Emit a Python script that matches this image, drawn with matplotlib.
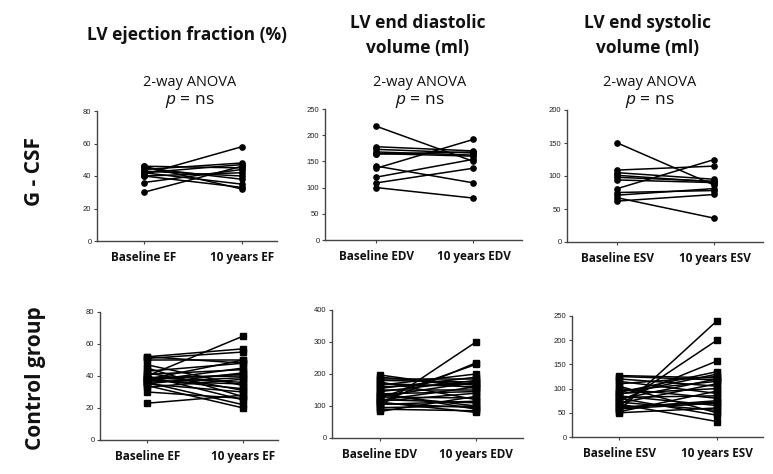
import matplotlib
matplotlib.use("Agg")
import matplotlib.pyplot as plt
import numpy as np

plt.rcParams["mathtext.fontset"] = "custom"
plt.rcParams["mathtext.it"] = "Open Sans:italic"
plt.rcParams["mathtext.rm"] = "Open Sans"

# ---------------- data ----------------
categories_ef = ["Baseline EF", "10 years EF"]
categories_edv = ["Baseline EDV", "10 years EDV"]
categories_esv = ["Baseline ESV", "10 years ESV"]

gcsf_ef_base = [30, 36, 41, 40, 42, 43, 44, 45, 46, 46, 42, 40]
gcsf_ef_10y = [46, 44, 58, 33, 35, 40, 48, 38, 32, 45, 47, 42]

gcsf_edv_base = [217, 178, 173, 168, 164, 141, 137, 120, 109, 100, 165]
gcsf_edv_10y = [150, 170, 166, 162, 168, 109, 192, 154, 137, 80, 160]

gcsf_esv_base = [150, 109, 105, 101, 98, 94, 81, 75, 71, 67, 62]
gcsf_esv_10y = [86, 115, 95, 91, 92, 90, 125, 78, 81, 36, 72]

ctrl_ef_base = [23, 30, 33, 34, 35, 35, 36, 37, 37, 38, 38, 39, 39, 40, 40, 41, 42, 43, 45, 47, 50, 51, 52, 52, 36, 38]
ctrl_ef_10y = [28, 26, 38, 20, 30, 42, 22, 45, 35, 50, 32, 36, 40, 65, 25, 44, 31, 48, 27, 34, 50, 55, 57, 48, 39, 41]

ctrl_edv_base = [83, 90, 95, 100, 105, 108, 110, 115, 118, 120, 125, 128, 130, 135, 140, 145, 150, 155, 160, 165, 170, 175, 180, 185, 190, 197, 112, 138]
ctrl_edv_10y = [130, 85, 100, 300, 115, 95, 235, 140, 160, 110, 230, 125, 175, 100, 90, 180, 150, 190, 170, 200, 160, 120, 175, 185, 165, 155, 80, 145]

ctrl_esv_base = [50, 52, 55, 58, 60, 65, 68, 70, 72, 75, 78, 80, 82, 85, 88, 90, 95, 100, 105, 110, 115, 120, 125, 127, 62, 92]
ctrl_esv_10y = [60, 95, 240, 70, 75, 200, 32, 110, 55, 157, 120, 45, 85, 65, 130, 100, 115, 80, 50, 125, 90, 105, 118, 122, 72, 135]

col_titles = ["LV ejection fraction (%)", "LV end diastolic\nvolume (ml)", "LV end systolic\nvolume (ml)"]
row_titles = ["G - CSF", "Control group"]
stat_line1 = "2-way ANOVA"

# ---------------- layout ----------------
W, H = 773, 474
fig = plt.figure(figsize=(W / 100, H / 100), dpi=100)

def box(l, r, t, b):
    return [l / W, 1 - b / H, (r - l) / W, (b - t) / H]

panels = [
    (box(97, 277, 111, 241), (-0.48, 1.36), (0, 80), np.arange(0, 81, 20), categories_ef, gcsf_ef_base, gcsf_ef_10y, "o"),
    (box(325, 522, 109, 240), (-0.53, 1.5), (0, 250), np.arange(0, 251, 50), categories_edv, gcsf_edv_base, gcsf_edv_10y, "o"),
    (box(567, 763, 110, 242), (-0.52, 1.5), (0, 200), np.arange(0, 201, 50), categories_esv, gcsf_esv_base, gcsf_esv_10y, "o"),
    (box(100, 278, 312, 440), (-0.49, 1.36), (0, 80), np.arange(0, 81, 20), categories_ef, ctrl_ef_base, ctrl_ef_10y, "s"),
    (box(332, 523, 310, 438), (-0.5, 1.49), (0, 400), np.arange(0, 401, 100), categories_edv, ctrl_edv_base, ctrl_edv_10y, "s"),
    (box(572, 763, 316, 437), (-0.48, 1.47), (0, 250), np.arange(0, 251, 50), categories_esv, ctrl_esv_base, ctrl_esv_10y, "s"),
]

spine_col = "#444444"
for (rect, xl, yl, yt, cats, base, ten, mk) in panels:
    ax = fig.add_axes(rect)
    for b0, t0 in zip(base, ten):
        ax.plot([0, 1], [b0, t0], color="black", lw=1.1, marker=mk,
                ms=3.8 if mk == "o" else 4.5, mfc="black", mec="black", solid_capstyle="round")
    ax.set_xlim(*xl)
    ax.set_ylim(*yl)
    ax.set_yticks(yt)
    ax.set_yticklabels([str(v) for v in yt], fontsize=5.5, family="Liberation Sans", color="#222222")
    ax.set_xticks([0, 1])
    ax.set_xticklabels(cats, fontsize=8.5, fontweight="bold", family="Open Sans", color="#111111")
    for s in ["top", "right"]:
        ax.spines[s].set_visible(False)
    for s in ["left", "bottom"]:
        ax.spines[s].set_color(spine_col)
        ax.spines[s].set_linewidth(1.0)
    ax.tick_params(axis="both", direction="out", length=2.5, width=0.8, color=spine_col, pad=1.5)
    ax.tick_params(axis="x", pad=5)

# column titles
title_x = [187, 418, 648]
title_y = [35, 36, 36]
for x, y, t in zip(title_x, title_y, col_titles):
    fig.text(x / W, 1 - y / H, t, ha="center", va="center", fontsize=12.5,
             fontweight="bold", family="Open Sans", linespacing=1.5, color="#111111")

# stats text
stat_x = [190, 420, 650]
for x in stat_x:
    fig.text(x / W, 1 - 82 / H, stat_line1, ha="center", va="center", fontsize=10.5,
             family="Open Sans", color="#111111")
    fig.text(x / W, 1 - 101 / H, r"$\it{p}$ = ns", ha="center", va="center", fontsize=12.5,
             family="Open Sans", color="#111111")

# row titles
fig.text(35 / W, 1 - 172 / H, row_titles[0], rotation=90, ha="center", va="center",
         fontsize=15, fontweight="bold", family="Open Sans", color="#111111")
fig.text(35 / W, 1 - 378 / H, row_titles[1], rotation=90, ha="center", va="center",
         fontsize=15, fontweight="bold", family="Open Sans", color="#111111")

fig.savefig("out.png", dpi=100)
